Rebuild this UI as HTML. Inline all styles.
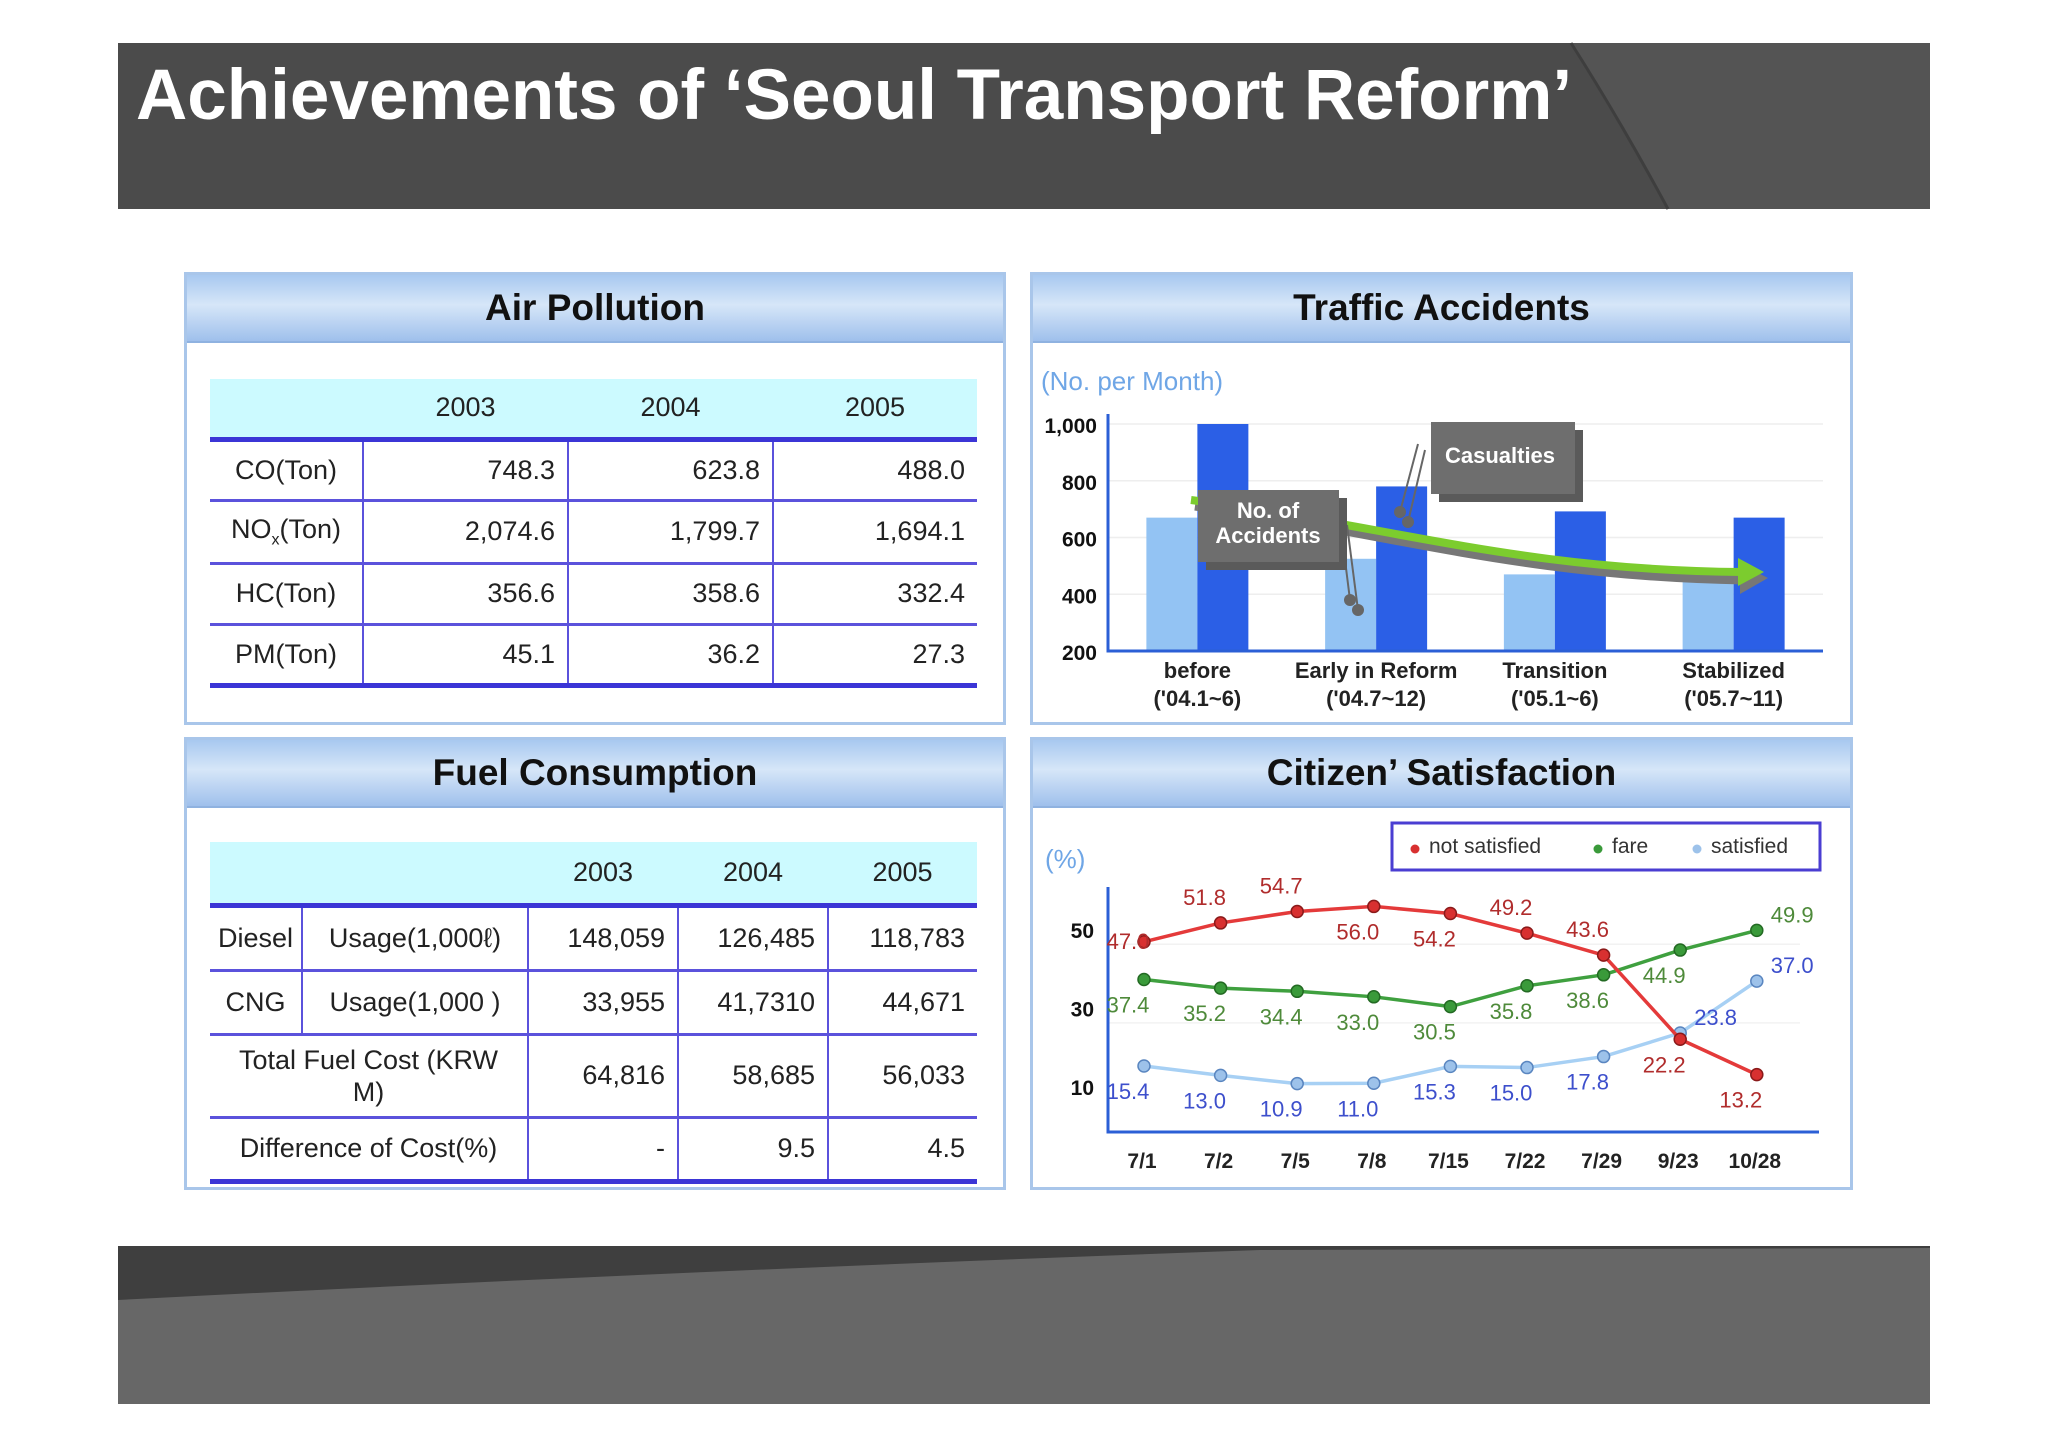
<!DOCTYPE html>
<html><head><meta charset="utf-8">
<style>
html,body{margin:0;padding:0;background:#fff;}
body{width:2048px;height:1447px;position:relative;overflow:hidden;font-family:"Liberation Sans",sans-serif;}
.abs{position:absolute;}
.panel{position:absolute;border:3px solid #a9c6ea;background:#fff;box-sizing:border-box;}
.phead{position:absolute;left:0;top:0;right:0;height:66px;background:linear-gradient(#a8c8f0,#d6e6f8 45%,#9fc0ec);border-bottom:2px solid #8fb2e0;text-align:center;font-weight:bold;font-size:37px;line-height:66px;color:#111;}
table.t{position:absolute;border-collapse:collapse;font-size:27px;color:#222;}
table.t td{padding:0 12px;}
table.t tr.h td{background:#ccfaff;text-align:center;}
table.t tr.h{border-bottom:5px solid #3b35d6;}
table.t tr.r td{border-bottom:3px solid #5b52dc;}
table.t tr.last td{border-bottom:5px solid #3b35d6;}
table.t tr.r td+td{border-left:2px solid #5b52dc;}
.num{text-align:right;}
</style></head>
<body>
<svg class="abs" style="left:0;top:0" width="2048" height="1447">
  <rect x="118" y="43" width="1812" height="166" fill="#4b4b4b"/>
  <path d="M1571,43 Q1620,120 1668,209 L1930,209 L1930,43 Z" fill="#545454"/>
  <path d="M1571,43 Q1620,120 1668,209" stroke="#3e3e3e" stroke-width="3" fill="none"/>
  <rect x="118" y="1246" width="1812" height="158" fill="#3f3f3f"/>
  <path d="M118,1300 Q700,1270 1260,1250 L1930,1248 L1930,1404 L118,1404 Z" fill="#676767"/>
</svg>
<div class="abs" style="left:136px;top:55px;font-size:71px;font-weight:bold;color:#fff;white-space:nowrap;">Achievements of ‘Seoul Transport Reform’</div>

<!-- Air Pollution -->
<div class="panel" style="left:184px;top:272px;width:822px;height:453px;">
  <div class="phead">Air Pollution</div>
</div>
<table class="t" style="left:210px;top:379px;width:767px;">
  <colgroup><col style="width:153px"><col style="width:205px"><col style="width:205px"><col style="width:204px"></colgroup>
  <tr class="h" style="height:60px"><td></td><td>2003</td><td>2004</td><td>2005</td></tr>
  <tr class="r" style="height:61px"><td style="text-align:center">CO(Ton)</td><td class="num">748.3</td><td class="num">623.8</td><td class="num">488.0</td></tr>
  <tr class="r" style="height:63px"><td style="text-align:center">NO<sub style="font-size:16px">x</sub>(Ton)</td><td class="num">2,074.6</td><td class="num">1,799.7</td><td class="num">1,694.1</td></tr>
  <tr class="r" style="height:61px"><td style="text-align:center">HC(Ton)</td><td class="num">356.6</td><td class="num">358.6</td><td class="num">332.4</td></tr>
  <tr class="r last" style="height:61px"><td style="text-align:center">PM(Ton)</td><td class="num">45.1</td><td class="num">36.2</td><td class="num">27.3</td></tr>
</table>

<!-- Fuel -->
<div class="panel" style="left:184px;top:737px;width:822px;height:453px;">
  <div class="phead">Fuel Consumption</div>
</div>
<table class="t" style="left:210px;top:842px;width:767px;">
  <colgroup><col style="width:92px"><col style="width:226px"><col style="width:150px"><col style="width:150px"><col style="width:149px"></colgroup>
  <tr class="h" style="height:63px"><td colspan="2"></td><td>2003</td><td>2004</td><td>2005</td></tr>
  <tr class="r" style="height:65px"><td style="padding:0 2px;text-align:center">Diesel</td><td style="text-align:center">Usage(1,000ℓ)</td><td class="num">148,059</td><td class="num">126,485</td><td class="num">118,783</td></tr>
  <tr class="r" style="height:64px"><td style="text-align:center;padding:0 2px">CNG</td><td style="text-align:center">Usage(1,000 )</td><td class="num">33,955</td><td class="num">41,7310</td><td class="num">44,671</td></tr>
  <tr class="r" style="height:83px"><td colspan="2" style="text-align:center;line-height:32px;padding:0 24px">Total Fuel Cost (KRW M)</td><td class="num">64,816</td><td class="num">58,685</td><td class="num">56,033</td></tr>
  <tr class="r last" style="height:64px"><td colspan="2" style="text-align:center">Difference of Cost(%)</td><td class="num">-</td><td class="num">9.5</td><td class="num">4.5</td></tr>
</table>

<!-- Traffic Accidents -->
<div class="panel" style="left:1030px;top:272px;width:823px;height:453px;">
  <div class="phead">Traffic Accidents</div>
</div>
<svg id="tc" class="abs" style="left:0;top:0" width="2048" height="1447"></svg>

<!-- Citizen -->
<div class="panel" style="left:1030px;top:737px;width:823px;height:453px;">
  <div class="phead">Citizen’ Satisfaction</div>
</div>
<svg id="cs" class="abs" style="left:0;top:0" width="2048" height="1447"></svg>

<script>
const NS='http://www.w3.org/2000/svg';
function mk(p,tag,a,txt){const e=document.createElementNS(NS,tag);for(const k in a)e.setAttribute(k,a[k]);if(txt!==undefined)e.textContent=txt;p.appendChild(e);return e;}

// ---- Traffic accidents data ----
const taCategories=['before','Early in Reform','Transition','Stabilized'];
const taPeriods=["('04.1~6)","('04.7~12)","('05.1~6)","('05.7~11)"];
const taAccidents=[670,525,470,462];
const taCasualties=[1000,780,692,670];
const taTicks=[200,400,600,800,1000];

// ---- Citizen satisfaction data ----
const csDates=['7/1','7/2','7/5','7/8','7/15','7/22','7/29','9/23','10/28'];
const csNotSatisfied=[47.0,51.8,54.7,56.0,54.2,49.2,43.6,22.2,13.2];
const csFare=[37.4,35.2,34.4,33.0,30.5,35.8,38.6,44.9,49.9];
const csSatisfied=[15.4,13.0,10.9,11.0,15.3,15.0,17.8,23.8,37.0];
const csTicks=[10,30,50];
const nsLabelSide=['left','above','above','below','below','above','above','below','below'];
const fareLabelSide=['below','below','below','below','below','below','below','below','right'];
const satLabelSide=['below','below','below','below','below','below','below','right','right'];

(function(){
  const s=document.getElementById('tc');
  const x0=1108,x1=1823,y0=651,ymin=200,ymax=1000,ytop=424;
  const y=v=>y0-(v-ymin)*(y0-ytop)/(ymax-ymin);
  const band=(x1-x0)/taCategories.length;
  const cx=i=>x0+band*(i+0.5);
  const t=mk(s,'text',{x:1041,y:390,'font-size':26,fill:'#6fa6e6'},'(No.  per Month)');
  
  taTicks.forEach(v=>{
    const g=mk(s,'line',{x1:x0,x2:x1,y1:y(v),y2:y(v),stroke:'#eeeeee','stroke-width':1.5});
    
    const l=mk(s,'text',{x:1097,y:y(v)+9,'text-anchor':'end','font-size':21,'font-weight':'bold',fill:'#111'},v.toLocaleString('en-US'));
    
  });
  const bw=51;
  taCategories.forEach((c,i)=>{
    const a=mk(s,'rect',{x:cx(i)-bw,y:y(taAccidents[i]),width:bw,height:y0-y(taAccidents[i]),fill:'#93c3f3'});
    
    const b=mk(s,'rect',{x:cx(i),y:y(taCasualties[i]),width:bw,height:y0-y(taCasualties[i]),fill:'#2b5fe6'});
    
    const l1=mk(s,'text',{x:cx(i),y:678,'text-anchor':'middle','font-size':22,'font-weight':'bold',fill:'#222'},c);
    
    const l2=mk(s,'text',{x:cx(i),y:706,'text-anchor':'middle','font-size':22,'font-weight':'bold',fill:'#222'},taPeriods[i]);
    
  });
  const ax=mk(s,'path',{d:`M${x0},${ytop-10} L${x0},${y0} L${x1},${y0}`,stroke:'#2b5fd6','stroke-width':3,fill:'none'});
  
  mk(s,'path',{d:'M1195,506 C1400,535 1520,576 1745,580',stroke:'#777','stroke-width':9,fill:'none'});
  mk(s,'path',{d:'M1740,564 L1768,578 L1740,594 Z',fill:'#777'});
  const ar=mk(s,'path',{d:'M1191,500 C1400,528 1520,570 1742,572',stroke:'#7ccc2e','stroke-width':8,fill:'none'});
  
  mk(s,'path',{d:'M1738,558 L1764,572 L1738,586 Z',fill:'#7ccc2e'});
  mk(s,'line',{x1:1340,y1:520,x2:1350,y2:600,stroke:'#666','stroke-width':2});
  mk(s,'line',{x1:1347,y1:525,x2:1358,y2:610,stroke:'#666','stroke-width':2});
  mk(s,'circle',{cx:1350,cy:600,r:6,fill:'#666'});mk(s,'circle',{cx:1358,cy:610,r:6,fill:'#666'});
  mk(s,'line',{x1:1418,y1:444,x2:1400,y2:512,stroke:'#666','stroke-width':2});
  mk(s,'line',{x1:1425,y1:450,x2:1408,y2:522,stroke:'#666','stroke-width':2});
  mk(s,'circle',{cx:1400,cy:512,r:6,fill:'#666'});mk(s,'circle',{cx:1408,cy:522,r:6,fill:'#666'});
  mk(s,'rect',{x:1206,y:498,width:141,height:72,fill:'#5a5a5a'});
  const c1=mk(s,'rect',{x:1198,y:490,width:141,height:72,fill:'#6e6e6e'});
  
  mk(s,'text',{x:1268,y:518,'text-anchor':'middle','font-size':22,'font-weight':'bold',fill:'#fff'},'No. of');
  mk(s,'text',{x:1268,y:543,'text-anchor':'middle','font-size':22,'font-weight':'bold',fill:'#fff'},'Accidents');
  mk(s,'rect',{x:1439,y:430,width:144,height:72,fill:'#5a5a5a'});
  const c2=mk(s,'rect',{x:1431,y:422,width:144,height:72,fill:'#6e6e6e'});
  
  mk(s,'text',{x:1500,y:463,'text-anchor':'middle','font-size':22,'font-weight':'bold',fill:'#fff'},'Casualties');
})();

(function(){
  const s=document.getElementById('cs');
  const x0=1108,x1=1819,yb=1132,ytop=887;
  const y=v=>930+(50-v)*3.93;
  const step=76.6, cx=i=>1144+step*i;
  const u=mk(s,'text',{x:1045,y:868,'font-size':26,fill:'#6fa6e6'},'(%)');
  
  [20,40].forEach(v=>mk(s,'line',{x1:x0,x2:1800,y1:y(v)-25,y2:y(v)-25,stroke:'#f2f2f2','stroke-width':1.5}));
  csTicks.forEach(v=>{
    const l=mk(s,'text',{x:1094,y:y(v)+8,'text-anchor':'end','font-size':21,'font-weight':'bold',fill:'#111'},String(v));
    
  });
  csDates.forEach((d,i)=>{
    const l=mk(s,'text',{x:cx(i)-2,y:1168,'text-anchor':'middle','font-size':21,'font-weight':'bold',fill:'#222'},d);
    
  });
  const ax=mk(s,'path',{d:`M${x0},${ytop} L${x0},${yb} L${x1},${yb}`,stroke:'#2b5fd6','stroke-width':3,fill:'none'});
  
  function series(vals,sides,line,dot,stroke,txt,name){
    const pl=mk(s,'polyline',{points:vals.map((v,i)=>cx(i)+','+y(v)).join(' '),fill:'none',stroke:line,'stroke-width':3.5});
    
    vals.forEach((v,i)=>{
      const c=mk(s,'circle',{cx:cx(i),cy:y(v),r:6,fill:dot,stroke:stroke,'stroke-width':1.5});
      
      let lx=cx(i),ly=y(v),an='middle';
      const sd=sides[i];
      if(sd==='above'){lx-=16;ly-=18;}
      else if(sd==='below'){lx-=16;ly+=33;}
      else if(sd==='left'){lx-=16;ly+=7;}
      else if(sd==='right'){lx+=14;ly-=8;an='start';}
      const t=mk(s,'text',{x:lx,y:ly,'text-anchor':an,'font-size':22,fill:txt},v.toFixed(1));
      
    });
  }
  series(csSatisfied,satLabelSide,'#a7d0f4','#9dc2ea','#5a86c0','#3d4fcc','satisfied');
  series(csFare,fareLabelSide,'#3fa03f','#3a9a3a','#236a23','#4e8a3a','fare');
  series(csNotSatisfied,nsLabelSide,'#e43a3a','#d83030','#8a1a1a','#b02c2c','not-satisfied');
  const lg=mk(s,'rect',{x:1392,y:823,width:428,height:47,fill:'#fff',stroke:'#4a3ed2','stroke-width':3});
  
  [['not satisfied','#d83030',1415],['fare','#3a9a3a',1598],['satisfied','#9dc2ea',1697]].forEach(e=>{
    mk(s,'circle',{cx:e[2],cy:849,r:4.5,fill:e[1]});
    const t=mk(s,'text',{x:e[2]+14,y:853,'font-size':21,fill:'#333'},e[0]);
    
  });
})();
</script>
</body></html>
